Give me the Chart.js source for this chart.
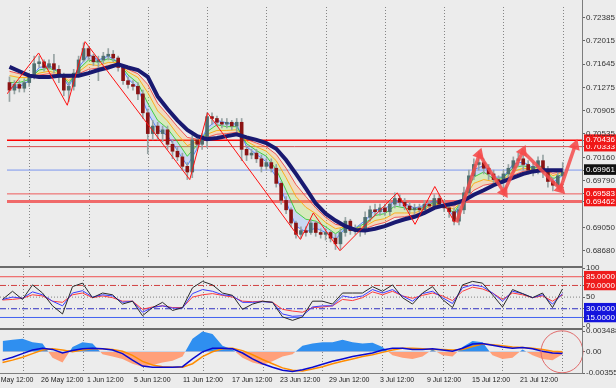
<!DOCTYPE html>
<html>
<head>
<meta charset="utf-8">
<script src="https://cdn.jsdelivr.net/npm/chart.js@4.4.1/dist/chart.umd.min.js"></script>
<style>
  body { margin: 0; background: #ececec; }
  #wrap { position: relative; width: 616px; height: 388px; overflow: hidden; background: #ececec; }
  canvas { position: absolute; left: 0; }
  .sep { position: absolute; left: 0; width: 582px; height: 2px; background: #6b6b6b; }
  #vline { position: absolute; left: 582px; top: 0; width: 1px; height: 374px; background: #7d7d7d; }
  #bline { position: absolute; left: 0; top: 373px; width: 582px; height: 1px; background: #7d7d7d; }
</style>
</head>
<body>
<div id="wrap">
  <canvas id="cMain" width="616" height="265" style="top:0"></canvas>
  <canvas id="cRsi" width="616" height="70" style="top:262px"></canvas>
  <canvas id="cMacd" width="616" height="64" style="top:324px"></canvas>
  <div class="sep" style="top:266px"></div>
  <div class="sep" style="top:328px"></div>
  <div id="vline"></div>
  <div id="bline"></div>
</div>
<script>
// ---- time axis ----
const xLabels = ["20 May 12:00","26 May 12:00","1 Jun 12:00","5 Jun 12:00","11 Jun 12:00","17 Jun 12:00",
  "23 Jun 12:00","29 Jun 12:00","3 Jul 12:00","9 Jul 12:00","15 Jul 12:00","21 Jul 12:00"];
const labelBars = [-2.3, 7.7, 16.9, 26.3, 36.1, 45.9, 55.5, 65.3, 75.5, 84.9, 93.9, 103.5];
const gridBars = [4.1, 16.1, 28.1, 40.1, 52.1, 64.1, 76.1, 88.1, 100.1, 112.1];

// ---- candles (one per bar index 0..112) ----
const candleOpen = [0.7135,0.7123,0.7132,0.7126,0.7135,0.7144,0.7165,0.7168,0.7159,0.7165,
  0.7156,0.7147,0.7123,0.7129,0.7150,0.7171,0.7189,0.7177,0.7168,0.7171,
  0.7177,0.7180,0.7174,0.7159,0.7138,0.7132,0.7129,0.7117,0.7087,0.7054,
  0.7066,0.7054,0.7060,0.7037,0.7026,0.7017,0.7002,0.6993,0.7044,0.7037,
  0.7044,0.7081,0.7078,0.7072,0.7069,0.7072,0.7066,0.7072,0.7029,0.7020,
  0.7023,0.7014,0.7002,0.7008,0.6999,0.6975,0.6948,0.6933,0.6912,0.6894,
  0.6900,0.6897,0.6912,0.6897,0.6894,0.6897,0.6888,0.6879,0.6897,0.6915,
  0.6900,0.6903,0.6900,0.6921,0.6933,0.6930,0.6936,0.6930,0.6942,0.6951,
  0.6945,0.6939,0.6933,0.6936,0.6933,0.6942,0.6939,0.6951,0.6942,0.6936,
  0.6930,0.6915,0.6933,0.6960,0.6987,0.7005,0.7008,0.6999,0.6990,0.6981,
  0.6978,0.6990,0.6999,0.7011,0.7014,0.7005,0.6996,0.7002,0.7011,0.6996,
  0.6978,0.6972,0.6987];
const candleHigh = [0.7144,0.7138,0.7138,0.7141,0.7150,0.7177,0.7177,0.7171,0.7171,0.7180,
  0.7162,0.7150,0.7135,0.7156,0.7177,0.7198,0.7192,0.7180,0.7177,0.7183,
  0.7189,0.7186,0.7177,0.7162,0.7144,0.7138,0.7135,0.7123,0.7093,0.7075,
  0.7072,0.7066,0.7066,0.7044,0.7032,0.7023,0.7008,0.7051,0.7051,0.7054,
  0.7087,0.7087,0.7082,0.7078,0.7078,0.7075,0.7078,0.7078,0.7035,0.7029,
  0.7029,0.7020,0.7014,0.7014,0.7005,0.6978,0.6954,0.6936,0.6915,0.6906,
  0.6906,0.6918,0.6915,0.6903,0.6903,0.6900,0.6894,0.6903,0.6921,0.6918,
  0.6909,0.6909,0.6930,0.6939,0.6942,0.6942,0.6942,0.6948,0.6960,0.6957,
  0.6951,0.6945,0.6942,0.6942,0.6948,0.6948,0.6957,0.6957,0.6948,0.6942,
  0.6936,0.6942,0.6969,0.6996,0.7014,0.7017,0.7014,0.7005,0.6996,0.6987,
  0.6996,0.7005,0.7017,0.7023,0.7020,0.7011,0.7008,0.7017,0.7020,0.7002,
  0.6984,0.6993,0.7008];
const candleLow = [0.7105,0.7117,0.7120,0.7120,0.7129,0.7141,0.7159,0.7153,0.7156,0.7150,
  0.7135,0.7114,0.7105,0.7123,0.7147,0.7168,0.7171,0.7162,0.7138,0.7165,
  0.7171,0.7168,0.7153,0.7132,0.7126,0.7123,0.7108,0.7078,0.7022,0.7044,
  0.7044,0.7041,0.7029,0.7014,0.7011,0.6996,0.6981,0.6984,0.7029,0.7029,
  0.7032,0.7069,0.7066,0.7063,0.7063,0.7060,0.7057,0.7011,0.7011,0.7014,
  0.7008,0.6993,0.6996,0.6993,0.6969,0.6942,0.6927,0.6906,0.6888,0.6888,
  0.6891,0.6894,0.6891,0.6888,0.6885,0.6882,0.6870,0.6870,0.6891,0.6894,
  0.6894,0.6891,0.6894,0.6915,0.6924,0.6924,0.6924,0.6924,0.6936,0.6939,
  0.6933,0.6927,0.6924,0.6924,0.6927,0.6930,0.6936,0.6936,0.6930,0.6921,
  0.6909,0.6909,0.6927,0.6954,0.6981,0.6996,0.6990,0.6981,0.6975,0.6972,
  0.6969,0.6984,0.6993,0.7002,0.6996,0.6990,0.6987,0.6990,0.6984,0.6969,
  0.6963,0.6969,0.6981];
const candleClose = [0.7123,0.7132,0.7126,0.7135,0.7144,0.7165,0.7168,0.7159,0.7165,0.7156,
  0.7147,0.7123,0.7129,0.7150,0.7171,0.7189,0.7177,0.7168,0.7171,0.7177,
  0.7180,0.7174,0.7159,0.7138,0.7132,0.7129,0.7117,0.7087,0.7054,0.7066,
  0.7054,0.7060,0.7037,0.7026,0.7017,0.7002,0.6993,0.7044,0.7037,0.7044,
  0.7081,0.7078,0.7072,0.7069,0.7072,0.7066,0.7072,0.7029,0.7020,0.7023,
  0.7014,0.7002,0.7008,0.6999,0.6975,0.6948,0.6933,0.6912,0.6894,0.6900,
  0.6897,0.6912,0.6897,0.6894,0.6897,0.6888,0.6879,0.6897,0.6915,0.6900,
  0.6903,0.6900,0.6921,0.6933,0.6930,0.6936,0.6930,0.6942,0.6951,0.6945,
  0.6939,0.6933,0.6936,0.6933,0.6942,0.6939,0.6951,0.6942,0.6936,0.6930,
  0.6915,0.6933,0.6960,0.6987,0.7005,0.7008,0.6999,0.6990,0.6981,0.6978,
  0.6990,0.6999,0.7011,0.7014,0.7005,0.6996,0.7002,0.7011,0.6996,0.6978,
  0.6972,0.6987,0.6993];

// ---- indicator lines, read every second bar ----
const sampleBars = [0,2,4,6,8,10,12,14,16,18,20,22,24,26,28,30,32,34,36,38,40,42,44,46,48,50,
  52,54,56,58,60,62,64,66,68,70,72,74,76,78,80,82,84,86,88,90,92,94,96,98,100,102,104,106,108,110,112];

const navyMA = [0.7160,0.7153,0.7146,0.7144,0.7144,0.7146,0.7146,0.7146,0.7150,0.7155,
  0.7159,0.7164,0.7159,0.7155,0.7144,0.7113,0.7093,0.7075,0.7060,0.7050,
  0.7045,0.7047,0.7050,0.7053,0.7048,0.7044,0.7039,0.7030,0.7012,0.6990,
  0.6967,0.6943,0.6927,0.6916,0.6907,0.6901,0.6900,0.6903,0.6907,0.6913,
  0.6918,0.6922,0.6928,0.6936,0.6940,0.6943,0.6948,0.6957,0.6964,0.6972,
  0.6978,0.6984,0.6990,0.6994,0.6996,0.6996,0.6996];
const ribbonBlue = [0.7126,0.7128,0.7138,0.7159,0.7162,0.7153,0.7129,0.7159,0.7180,0.7171,
  0.7177,0.7168,0.7141,0.7126,0.7087,0.7060,0.7051,0.7027,0.7003,0.7030,
  0.7063,0.7075,0.7071,0.7069,0.7033,0.7021,0.7009,0.6985,0.6946,0.6907,
  0.6898,0.6904,0.6897,0.6886,0.6904,0.6904,0.6916,0.6933,0.6934,0.6948,
  0.6943,0.6936,0.6940,0.6948,0.6940,0.6922,0.6955,0.6997,0.7003,0.6985,
  0.6985,0.7006,0.7009,0.7000,0.7003,0.6976,0.6988];
const ribbonGreen = [0.7135,0.7135,0.7140,0.7155,0.7158,0.7152,0.7134,0.7156,0.7171,0.7167,
  0.7173,0.7168,0.7147,0.7134,0.7102,0.7075,0.7062,0.7041,0.7018,0.7036,
  0.7057,0.7068,0.7065,0.7065,0.7038,0.7027,0.7018,0.6997,0.6964,0.6930,
  0.6918,0.6915,0.6906,0.6895,0.6906,0.6903,0.6912,0.6924,0.6927,0.6939,
  0.6936,0.6933,0.6937,0.6945,0.6940,0.6928,0.6954,0.6985,0.6993,0.6982,
  0.6984,0.7000,0.7003,0.6999,0.7002,0.6982,0.6990];
const ribbonOrange = [0.7146,0.7143,0.7143,0.7150,0.7153,0.7149,0.7138,0.7152,0.7164,0.7162,
  0.7167,0.7167,0.7152,0.7143,0.7119,0.7090,0.7074,0.7053,0.7035,0.7041,
  0.7053,0.7059,0.7059,0.7060,0.7042,0.7033,0.7026,0.7011,0.6984,0.6954,
  0.6937,0.6927,0.6913,0.6903,0.6906,0.6903,0.6907,0.6916,0.6919,0.6928,
  0.6928,0.6928,0.6934,0.6942,0.6940,0.6934,0.6951,0.6975,0.6981,0.6978,
  0.6981,0.6994,0.6999,0.6997,0.6999,0.6987,0.6993];
const ribbonRed = [0.7153,0.7149,0.7144,0.7147,0.7149,0.7147,0.7143,0.7149,0.7156,0.7158,
  0.7162,0.7165,0.7156,0.7149,0.7132,0.7102,0.7084,0.7065,0.7048,0.7045,
  0.7048,0.7053,0.7054,0.7056,0.7045,0.7039,0.7033,0.7021,0.6999,0.6973,
  0.6954,0.6936,0.6921,0.6910,0.6907,0.6901,0.6903,0.6909,0.6913,0.6921,
  0.6922,0.6925,0.6931,0.6939,0.6940,0.6939,0.6949,0.6964,0.6972,0.6975,
  0.6979,0.6988,0.6994,0.6996,0.6997,0.6991,0.6994];

// zigzag + arrows
const zigzagBars = [-0.5, 5.9, 11.7, 15.3, 36.5, 40.1, 58.9, 61.5, 66.9, 78.5, 82.1, 86.1, 90.1];
const zigzagPrices = [0.7117,0.7182,0.7099,0.7200,0.6981,0.7087,0.6886,0.6928,0.6868,0.6960,0.6910,0.6970,0.6913];
const arrowBars = [90.5, 95.1, 100.1, 103.9, 111.5, 114.5];
const arrowPrices = [0.6913, 0.7021, 0.6961, 0.7026, 0.6966, 0.7035];

// price axis
const priceTicks = [0.68680, 0.69050, 0.69790, 0.70160, 0.70535, 0.70905, 0.71275, 0.71645, 0.72015, 0.72385];
const priceTickLabels = ["0.68680","0.69050","0.69790","0.70160","0.70535","0.70905","0.71275","0.71645","0.72015","0.72385"];
const levelPrices = [0.70436, 0.70333, 0.69961, 0.69583, 0.69462];
const levelLabels = ["0.70436","0.70333","0.69961","0.69583","0.69462"];

// ---- oscillator panel ----
const rsiBlack = [46,60,46,71,57,35,21,68,74,49,57,54,38,43,18,32,41,27,32,66,
  77,71,57,53,29,38,43,41,16,10,16,43,43,38,57,57,57,68,60,71,
  49,38,57,68,46,32,71,77,74,54,33,63,56,49,57,32,64];
const rsiBlue = [46,50,48,59,54,43,35,57,61,50,54,52,41,43,24,32,35,31,31,56,
  63,60,54,52,41,41,42,41,21,17,18,33,35,35,52,49,52,63,57,63,
  52,43,56,60,49,39,66,71,68,57,43,60,56,49,54,38,56];
const rsiRed = [45,46,48,54,52,43,41,54,57,49,52,49,43,43,29,33,35,32,32,50,
  54,56,53,50,43,42,43,41,29,26,24,32,33,35,46,44,49,59,54,60,
  52,48,53,57,52,44,60,67,64,57,46,57,54,49,52,43,54];
const rsiTicks = [0, 15, 30, 50, 70, 85, 100];
const rsiTickLabels = ["0","15.0000","30.0000","50","70.0000","85.0000","100"];

// ---- macd panel ----
const macdHist = [0.0018,0.0020,0.0022,0.0016,0.0014,-0.0010,-0.0018,0.0008,0.0016,0.0014,
  -0.0004,-0.0008,-0.0012,-0.0020,-0.0025,-0.0022,-0.0018,-0.0015,-0.0008,0.0022,
  0.0034,0.0030,0.0010,0.0004,-0.0010,-0.0018,-0.0022,-0.0016,-0.0008,-0.0004,
  0.0010,0.0014,0.0016,0.0016,0.0020,0.0016,0.0014,0.0015,0.0008,-0.0006,
  -0.0010,-0.0012,-0.0008,0.0004,-0.0006,-0.0008,0.0008,0.0018,0.0016,-0.0006,
  -0.0012,-0.0010,0.0004,-0.0006,-0.0012,-0.0014,-0.0004];
const macdLine = [-0.0014,-0.0009,-0.0003,0.0003,0.0006,0.0004,-0.0002,0.0002,0.0005,0.0006,
  0.0005,0.0003,-0.0003,-0.0014,-0.0024,-0.0026,-0.0026,-0.0026,-0.0025,-0.0012,
  0.0000,0.0006,0.0006,0.0005,-0.0002,-0.0012,-0.0020,-0.0026,-0.0031,-0.0033,
  -0.0030,-0.0026,-0.0021,-0.0016,-0.0012,-0.0008,-0.0005,-0.0002,0.0003,0.0006,
  0.0006,0.0004,0.0004,0.0005,0.0003,0.0001,0.0006,0.0013,0.0014,0.0011,
  0.0008,0.0006,0.0007,0.0005,0.0001,-0.0002,-0.0003];
const macdSignal = [-0.0018,-0.0014,-0.0009,-0.0003,0.0003,0.0005,0.0003,0.0000,0.0003,0.0005,
  0.0005,0.0004,0.0001,-0.0006,-0.0016,-0.0022,-0.0025,-0.0026,-0.0026,-0.0020,
  -0.0008,0.0000,0.0005,0.0006,0.0002,-0.0005,-0.0013,-0.0020,-0.0027,-0.0031,
  -0.0032,-0.0029,-0.0025,-0.0020,-0.0016,-0.0012,-0.0008,-0.0005,-0.0001,0.0003,
  0.0006,0.0006,0.0005,0.0004,0.0004,0.0003,0.0004,0.0009,0.0013,0.0012,
  0.0010,0.0008,0.0007,0.0006,0.0004,0.0001,0.0000];
const macdTicks = [-0.003556, 0, 0.003488];
const macdTickLabels = ["-0.003556","0.00","0.003488"];

// ---- layout / look ----
const X_MIN = -0.5, X_MAX = 115.9;
const PRICE_MIN = 0.68565, PRICE_MAX = 0.72550;
const MARK_BAR = 111.9, MARK_VALUE = 0;  // red circle on the macd panel
const FONT = { family: "'Liberation Sans', Arial, sans-serif", size: 8 };
const FONT_X = { family: "'Liberation Sans', Arial, sans-serif", size: 7 };
const BULL = "#4f6f6f", BEAR = "#8b1414", WICK = "#97a3a3";

const levelLine = ["#ff0000", "#d84a4a", "#7b96ee", "#ee5a5a", "#f06a6a"];
const levelWidth = [1.5, 1, 1, 1, 3];
const levelBox = ["#f01818", "#f01818", "#111111", "#f01818", "#f01818"];

const pts = (xs, ys) => xs.map((x, i) => ({ x, y: ys[i] }));
const hline = (v) => [{ x: X_MIN, y: v }, { x: X_MAX, y: v }];

function gridAxis(){
  return {
    type: "linear", position: "bottom", min: X_MIN, max: X_MAX, offset: false,
    grid: { color: "#858585", lineWidth: 1, drawTicks: false, offset: false },
    border: { display: false, dash: [1, 2] },
    ticks: { display: false },
    afterBuildTicks: s => { s.ticks = gridBars.map(v => ({ value: v })); },
    afterFit: s => { s.height = 0; s.paddingLeft = 0; s.paddingRight = 0; }
  };
}

function rightAxis(min, max, vals, labelOf, boxOf){
  return {
    type: "linear", position: "right", min, max, beginAtZero: false,
    grid: { drawOnChartArea: false, drawTicks: true, tickLength: 3, tickColor: "#666" },
    border: { display: false },
    afterBuildTicks: s => { s.ticks = vals.map(v => ({ value: v })); },
    afterFit: s => { s.width = 34; },
    ticks: {
      autoSkip: false, padding: 1, font: FONT,
      callback: v => labelOf(v),
      color: c => (c.tick && boxOf(c.tick.value)) ? "#ffffff" : "#333333",
      showLabelBackdrop: c => !!(c.tick && boxOf(c.tick.value)),
      backdropColor: c => (c.tick && boxOf(c.tick.value)) || "rgba(0,0,0,0)",
      backdropPadding: { top: 1, bottom: 0, left: 2, right: 8 }
    }
  };
}

const baseOpts = {
  responsive: false, animation: false, devicePixelRatio: 1,
  plugins: { legend: { display: false }, tooltip: { enabled: false } },
  elements: { point: { radius: 0 }, line: { tension: 0 } }
};

// ---- main price chart ----
const mainTickVals = priceTicks.concat(levelPrices).sort((a, b) => a - b);
const mainLabel = v => {
  let i = priceTicks.indexOf(v);
  if (i >= 0) return priceTickLabels[i];
  i = levelPrices.indexOf(v);
  return i >= 0 ? levelLabels[i] : "";
};
const mainBox = v => { const i = levelPrices.indexOf(v); return i >= 0 ? levelBox[i] : null; };

const levelSets = levelPrices.map((v, i) => ({
  type: "line", data: hline(v), borderColor: levelLine[i], borderWidth: levelWidth[i], order: 30
}));

const ribbon = [
  { d: ribbonBlue,   c: "rgba(50,110,255,0.8)", f: "rgba(110,160,255,0.28)" },
  { d: ribbonGreen,  c: "rgba(30,200,30,0.8)",  f: "rgba(160,230,70,0.28)" },
  { d: ribbonOrange, c: "rgba(255,165,0,0.85)", f: "rgba(255,175,80,0.28)" },
  { d: ribbonRed,    c: "rgba(240,50,50,0.8)",  f: false }
].map((r, i) => ({
  type: "line", data: pts(sampleBars, r.d), borderColor: r.c, borderWidth: 1,
  fill: r.f ? { target: "+1" } : false, backgroundColor: r.f || "transparent", order: 20 - i
}));

function arrowRotation(ctx){
  const i = ctx.dataIndex;
  if (i === 0) return 0;
  const xs = ctx.chart.scales.x, ys = ctx.chart.scales.y;
  const dx = xs.getPixelForValue(arrowBars[i]) - xs.getPixelForValue(arrowBars[i - 1]);
  const dy = ys.getPixelForValue(arrowPrices[i]) - ys.getPixelForValue(arrowPrices[i - 1]);
  return Math.atan2(dx, -dy) * 180 / Math.PI;
}

new Chart(document.getElementById("cMain"), {
  type: "bar",
  data: {
    datasets: [
      ...levelSets,
      ...ribbon,
      {
        type: "bar", data: candleOpen.map((_, i) => ({ x: i, y: [candleLow[i], candleHigh[i]] })),
        backgroundColor: WICK, barThickness: 1, grouped: false, order: 12
      },
      {
        type: "bar", data: candleOpen.map((o, i) => ({ x: i, y: [o, candleClose[i]] })),
        backgroundColor: c => candleClose[c.dataIndex] >= candleOpen[c.dataIndex] ? BULL : BEAR,
        barThickness: 3, minBarLength: 1, grouped: false, order: 11
      },
      { type: "line", data: pts(sampleBars, navyMA), borderColor: "#191970", borderWidth: 4, order: 6 },
      { type: "line", data: pts(zigzagBars, zigzagPrices), borderColor: "#ff1010", borderWidth: 1, order: 5 },
      {
        type: "line", data: pts(arrowBars, arrowPrices),
        borderColor: "rgba(245,75,75,0.85)", borderWidth: 3.5,
        pointStyle: "triangle", pointRadius: c => c.dataIndex === 0 ? 0 : 7,
        pointBackgroundColor: "rgba(245,75,75,0.9)", pointBorderWidth: 0,
        pointRotation: arrowRotation, order: 4
      }
    ]
  },
  options: {
    ...baseOpts,
    layout: { padding: 0 },
    scales: {
      x: gridAxis(),
      y: rightAxis(PRICE_MIN, PRICE_MAX, mainTickVals, mainLabel, mainBox)
    }
  }
});

// ---- oscillator ----
const rsiBoxColors = { 85: "#ee1c1c", 70: "#ee1c1c", 30: "#1414dc", 15: "#1414dc" };
const rsiLevels = [
  { v: 85, c: "#f05050", dash: [] },
  { v: 70, c: "#d04040", dash: [6, 2, 1, 2] },
  { v: 50, c: "#808080", dash: [1, 2] },
  { v: 30, c: "#3030c0", dash: [6, 2, 1, 2] },
  { v: 15, c: "#4060f0", dash: [] }
];

new Chart(document.getElementById("cRsi"), {
  type: "line",
  data: {
    datasets: [
      ...rsiLevels.map(l => ({ data: hline(l.v), borderColor: l.c, borderWidth: 1, borderDash: l.dash, order: 10 })),
      { data: pts(sampleBars, rsiRed), borderColor: "#ff3b3b", borderWidth: 1, order: 3 },
      { data: pts(sampleBars, rsiBlue), borderColor: "#3a3aff", borderWidth: 1, order: 2 },
      { data: pts(sampleBars, rsiBlack), borderColor: "#2a2a2a", borderWidth: 1, order: 1 }
    ]
  },
  options: {
    ...baseOpts,
    layout: { padding: { top: 6, bottom: 4, left: 0, right: 0 } },
    scales: {
      x: gridAxis(),
      y: rightAxis(0, 100, rsiTicks, v => rsiTickLabels[rsiTicks.indexOf(v)] || "", v => rsiBoxColors[v] || null)
    }
  }
});

// ---- macd ----
const markPlugin = {
  id: "mark",
  afterDraw(chart){
    const { ctx, scales } = chart;
    const cx = scales.x.getPixelForValue(MARK_BAR);
    const cy = scales.y.getPixelForValue(MARK_VALUE);
    ctx.save();
    ctx.strokeStyle = "#e06a6a";
    ctx.lineWidth = 1;
    ctx.beginPath();
    ctx.arc(cx, cy, 21, 0, Math.PI * 2);
    ctx.stroke();
    ctx.restore();
  }
};

new Chart(document.getElementById("cMacd"), {
  type: "line",
  data: {
    datasets: [
      {
        data: pts(sampleBars, macdHist), borderWidth: 0, borderColor: "transparent",
        fill: { target: "origin", above: "#2f8ff0", below: "#ffa07a" }, order: 5
      },
      { data: pts(sampleBars, macdSignal), borderColor: "#ff8c00", borderWidth: 1.5, order: 2 },
      { data: pts(sampleBars, macdLine), borderColor: "#0a0ad0", borderWidth: 1.5, order: 1 }
    ]
  },
  options: {
    ...baseOpts,
    layout: { padding: { top: 7, bottom: 0, left: 0, right: 0 } },
    scales: {
      x: gridAxis(),
      xl: {
        type: "linear", position: "bottom", min: X_MIN, max: X_MAX, offset: false,
        grid: { display: false, drawTicks: false },
        border: { display: false },
        afterBuildTicks: s => { s.ticks = labelBars.map(v => ({ value: v })); },
        afterFit: s => { s.height = 15; s.paddingLeft = 0; s.paddingRight = 0; },
        ticks: {
          autoSkip: false, maxRotation: 0, minRotation: 0, align: "start", padding: 3,
          font: FONT_X, color: "#222", callback: (v, i) => xLabels[i]
        }
      },
      y: rightAxis(macdTicks[0], macdTicks[2], macdTicks,
        v => macdTickLabels[macdTicks.indexOf(v)] || "", () => null)
    }
  },
  plugins: [markPlugin]
});
</script>
</body>
</html>
